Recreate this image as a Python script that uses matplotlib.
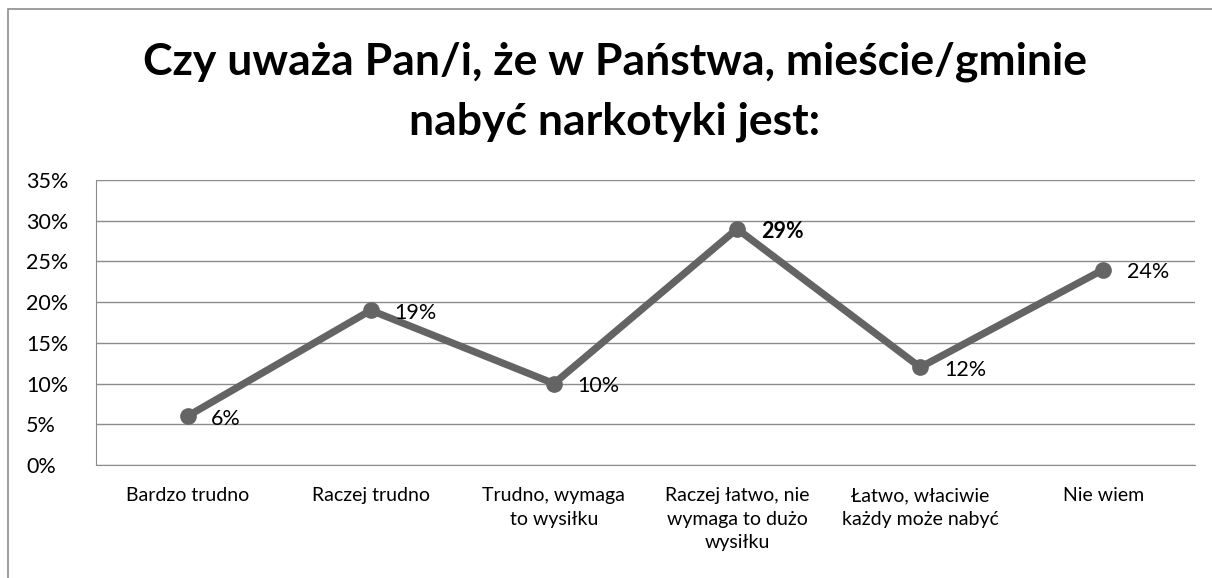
import matplotlib
matplotlib.use("Agg")
import matplotlib.pyplot as plt
from matplotlib.patches import Rectangle

plt.rcParams['font.family'] = ['Lato', 'DejaVu Sans']

categories = ["Bardzo trudno", "Raczej trudno", "Trudno, wymaga\nto wysiłku",
              "Raczej łatwo, nie\nwymaga to dużo\nwysiłku",
              "Łatwo, właciwie\nkażdy może nabyć", "Nie wiem"]
values = [6, 19, 10, 29, 12, 24]
labels = ["6%", "19%", "10%", "29%", "12%", "24%"]
bold_label = [False, False, False, True, False, False]
yticks = [0, 5, 10, 15, 20, 25, 30, 35]

W, H = 1212, 578
fig = plt.figure(figsize=(W / 100, H / 100), dpi=100)
ax = fig.add_axes([96 / W, 1 - 465 / H, (1195 - 96) / W, (465 - 180) / H])

x = [i + 0.5 for i in range(len(values))]
ax.plot(x, values, color="#646464", lw=5.2, marker="o", ms=11,
        solid_joinstyle="round", zorder=3)

for xi, v, lab, b in zip(x, values, labels, bold_label):
    ax.annotate(lab, (xi, v), xytext=(17, -2), textcoords="offset points",
                ha="left", va="center", fontsize=15.5,
                fontweight="bold" if b else "normal", zorder=4)

ax.set_xlim(0, len(values))
ax.set_ylim(0, 35)
ax.set_yticks(yticks)
ax.set_yticklabels([f"{t}%" for t in yticks], fontsize=15.5, ha="left")
ax.set_xticks(x)
ax.set_xticklabels(categories, fontsize=14, linespacing=1.45)
ax.tick_params(axis="x", length=0, pad=16)
ax.tick_params(axis="y", length=0, pad=50.4)
ax.grid(axis="y", color="#8c8c8c", lw=1)
ax.set_axisbelow(True)
for s in ["top", "right"]:
    ax.spines[s].set_visible(False)
ax.spines["left"].set_color("#8c8c8c")
ax.spines["bottom"].set_color("#8c8c8c")

fig.text(615 / W, 1 - 92 / H,
         "Czy uważa Pan/i, że w Państwa, mieście/gminie\nnabyć narkotyki jest:",
         ha="center", va="center", fontsize=32, fontweight="bold", linespacing=1.6)

fig.add_artist(Rectangle((8 / W, -0.1), 1.2, 1 - 9 / H + 0.1,
                         transform=fig.transFigure, fill=False,
                         edgecolor="#8c8c8c", lw=1.2))

fig.savefig("out.png", dpi=100)
